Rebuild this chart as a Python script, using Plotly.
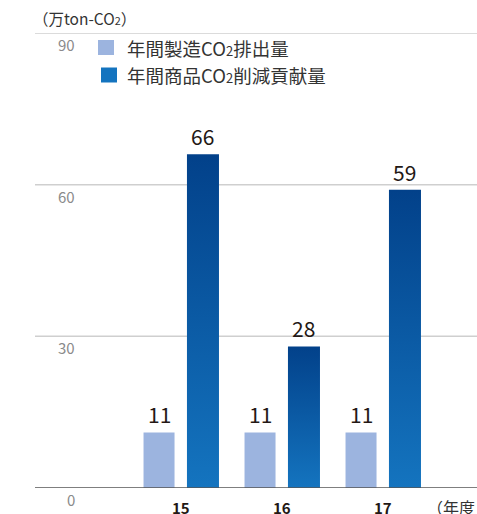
import plotly.graph_objects as go

# Fiscal years and values (10k ton-CO2)
years = ["15", "16", "17"]
manufacturing_co2 = [11, 11, 11]
product_reduction = [66, 28, 59]
y_ticks = [0, 30, 60, 90]

CO2 = 'CO<span style="font-size:70%">2</span>'
series_names = [f"年間製造{CO2}排出量", f"年間商品{CO2}削減貢献量"]
light_color = "#9cb4df"
dark_top = "#02418a"
dark_bottom = "#1474bf"
text_color = "#231815"
font_family = "Noto Sans CJK JP"

# bar geometry in category units
light_offset, light_width = -0.371, 0.307
dark_offset, dark_width = 0.059, 0.317

W, H = 477, 514
m_l, m_r, m_t, m_b = 35, 0, 33, 26
plot_w, plot_h = W - m_l - m_r, H - m_t - m_b
px_per_cat = 101.0
first_px = 181.0
x_range = [-(first_px - m_l) / px_per_cat, (W - m_r - first_px) / px_per_cat]

xs = list(range(len(years)))
fig = go.Figure()

fig.add_trace(go.Bar(
    x=xs, y=manufacturing_co2, offset=light_offset, width=light_width,
    marker=dict(color=light_color, line=dict(width=0)),
    name=series_names[0], showlegend=False,
))

# gradient-filled bars for the reduction contribution
for xi, v in zip(xs, product_reduction):
    x0 = xi + dark_offset
    x1 = x0 + dark_width
    fig.add_trace(go.Scatter(
        x=[x0, x1, x1, x0, x0], y=[0, 0, v, v, 0],
        mode="lines", line=dict(width=0), fill="toself",
        fillgradient=dict(type="vertical",
                          colorscale=[[0, dark_bottom], [1, dark_top]]),
        hoverinfo="skip", showlegend=False,
    ))

# value labels above the bars
label_font = dict(size=21, color=text_color, family=font_family)
for xi, v in zip(xs, manufacturing_co2):
    fig.add_annotation(x=xi + light_offset + light_width / 2, y=v, text=str(v),
                       showarrow=False, yanchor="bottom", yshift=1, font=label_font)
for xi, v in zip(xs, product_reduction):
    fig.add_annotation(x=xi + dark_offset + dark_width / 2, y=v, text=str(v),
                       showarrow=False, yanchor="bottom", yshift=1, font=label_font)

# year labels under the baseline
for xi, yr in zip(xs, years):
    fig.add_annotation(x=xi, y=0, text=f"<b>{yr}</b>", showarrow=False,
                       yanchor="middle", yshift=-19,
                       font=dict(size=15, color=text_color, family=font_family))

# y tick labels sit just below their grid lines
for t in y_ticks:
    fig.add_annotation(xref="paper", x=(77 - m_l) / plot_w, y=t,
                       text=str(t), showarrow=False, xanchor="right",
                       yanchor="top", yshift=1,
                       font=dict(size=15, color="#8a8a8a", family=font_family))

# grid lines
for t in y_ticks:
    fig.add_shape(type="line", xref="paper", x0=0, x1=1, y0=t, y1=t,
                  line=dict(color="#555555" if t == 0 else "#cfcfcf", width=1.5),
                  layer="below" if t else "above")

# legend
legend_items = [(light_color, series_names[0], 98, 47.5),
                (dark_bottom, series_names[1], 101, 75)]
for color, label, lx, cy in legend_items:
    fig.add_shape(type="rect", xref="paper", yref="paper",
                  x0=(lx - m_l) / plot_w, x1=(lx + 16 - m_l) / plot_w,
                  y0=1 - (cy - 7.5 - m_t) / plot_h,
                  y1=1 - (cy + 7.5 - m_t) / plot_h,
                  fillcolor=color, line=dict(width=0))
    fig.add_annotation(xref="paper", yref="paper",
                       x=(125 - m_l) / plot_w,
                       y=1 - (cy - m_t) / plot_h,
                       text=label, showarrow=False, xanchor="left", yanchor="middle",
                       font=dict(size=18.5, color="#333333", family=font_family))

# unit label and x-axis unit
fig.add_annotation(xref="paper", yref="paper", x=0, y=1 + (33 - 18) / plot_h,
                   text=f"（万ton-{CO2}）", showarrow=False, xanchor="left",
                   yanchor="middle", xshift=-4,
                   font=dict(size=15.5, color="#333333", family=font_family))
fig.add_annotation(xref="paper", yref="paper", x=1,
                   y=-(507 - 488) / plot_h,
                   text="（年度", showarrow=False, xanchor="right", yanchor="middle",
                   font=dict(size=16, color="#333333", family=font_family))

fig.update_layout(
    width=W, height=H,
    margin=dict(l=m_l, r=m_r, t=m_t, b=m_b, autoexpand=False),
    paper_bgcolor="white", plot_bgcolor="white",
    barmode="overlay",
    font=dict(family=font_family),
    xaxis=dict(range=x_range, showticklabels=False, ticks="",
               automargin=False, showgrid=False, zeroline=False, showline=False,
               fixedrange=True),
    yaxis=dict(range=[0, 90], showgrid=False, zeroline=False, showline=False,
               showticklabels=False, automargin=False, fixedrange=True),
)

fig.write_html("out.html")
